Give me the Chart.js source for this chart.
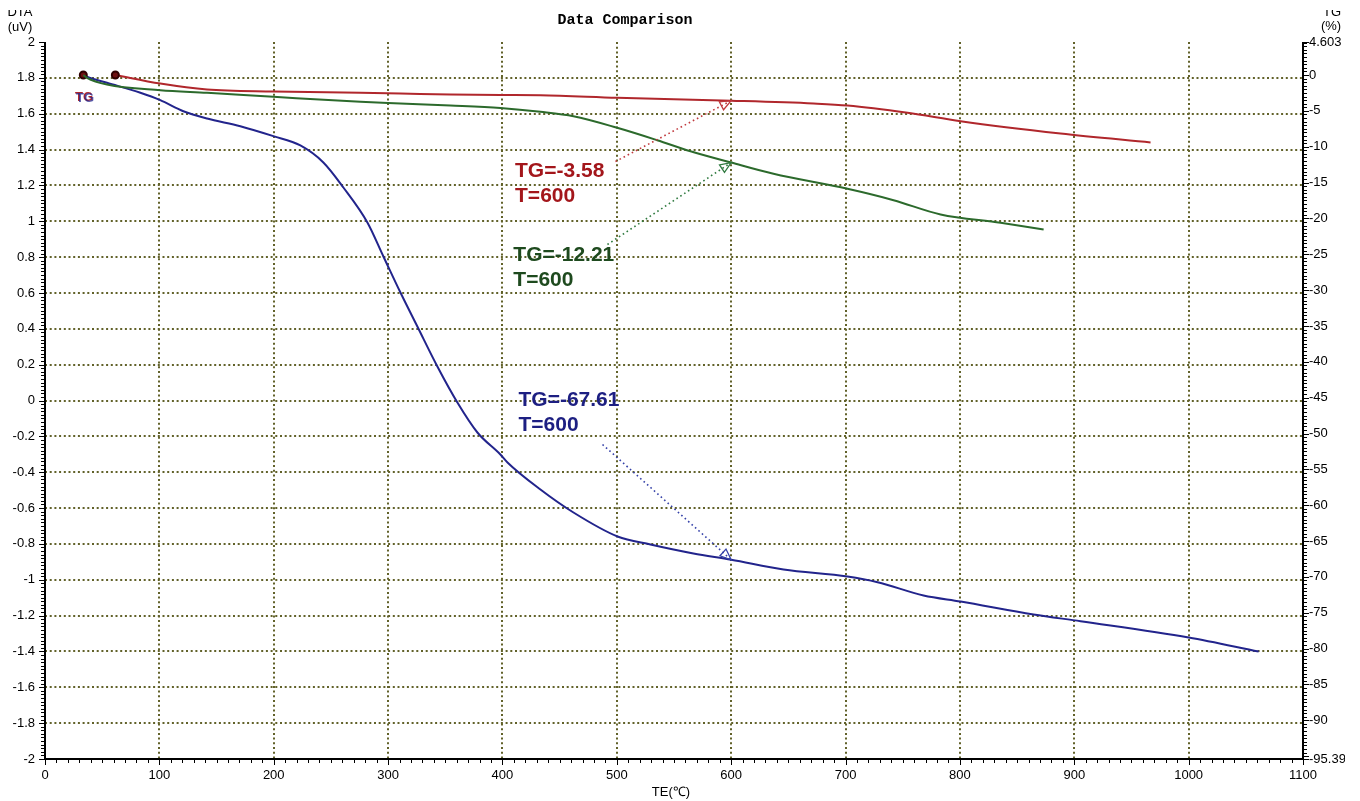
<!DOCTYPE html>
<html>
<head>
<meta charset="utf-8">
<title>Data Comparison</title>
<script src="https://cdn.jsdelivr.net/npm/chart.js@4.4.1/dist/chart.umd.min.js"></script>
<style>
  html, body { margin: 0; padding: 0; background: #fff; }
  #wrap { width: 1360px; height: 801px; position: relative; }
</style>
</head>
<body>
<div id="wrap"><canvas id="grafico"></canvas></div>
<script>
// datos (T en grados C, TG en %)
const tempRojo = [61.5, 100.8, 141.7, 199.7, 275.8, 310.8, 354.5, 398.2, 433.2, 500.3, 600, 672, 701.7, 754.2, 800.6, 888, 966.7];
const tgRojo   = [0.0, -1.19, -2.02, -2.30, -2.48, -2.58, -2.72, -2.79, -2.82, -3.18, -3.58, -3.97, -4.25, -5.27, -6.44, -8.16, -9.41];

const tempVerde = [33.5, 36.7, 54.2, 100.8, 141.7, 199.7, 275.8, 310.8, 354.5, 398.2, 433.2, 462.1, 500.3, 535.3, 564.4, 600, 637, 701.7, 742, 783.1, 835.6, 873.2];
const tgVerde   = [0.0, -0.39, -1.33, -2.12, -2.48, -3.04, -3.74, -3.97, -4.25, -4.60, -5.13, -5.75, -7.36, -9.09, -10.63, -12.21, -13.78, -15.87, -17.46, -19.45, -20.61, -21.55];

const tempAzul = [33.5, 36.7, 54.2, 83.4, 100.8, 121, 141.7, 170.8, 199.7, 223.3, 243.4, 260.9, 281.9, 295.9, 310.8, 325.6, 343.1, 360.6, 378.1, 398.2, 404.4, 433.2, 462.1, 500.6, 529.4, 567, 600, 645.8, 701.7, 728, 768.2, 800.6, 864.4, 905.5, 1000, 1061.2];
const tgAzul   = [0.0, -0.25, -1.09, -2.48, -3.51, -5.05, -6.07, -7.14, -8.53, -9.83, -12.20, -15.69, -20.57, -25.31, -30.34, -35.08, -40.66, -45.68, -49.86, -52.93, -54.04, -57.81, -61.02, -64.36, -65.48, -66.73, -67.61, -68.97, -69.95, -70.74, -72.59, -73.43, -75.24, -76.18, -78.45, -80.40];

// ejes
const xTicks = [0, 100, 200, 300, 400, 500, 600, 700, 800, 900, 1000, 1100];
const dtaMin = -2, dtaMax = 2;
const tgMax = 4.603, tgMin = -95.397;
const tgTicks = [4.603, 0, -5, -10, -15, -20, -25, -30, -35, -40, -45, -50, -55, -60, -65, -70, -75, -80, -85, -90, -95.397];

// anotaciones en T=600
const anotT = 600;
const anotTG = [-3.58, -12.21, -67.61];
const anotTextoT = [411, 409.5, 414];
const anotTextoTG = [-13.46, -25.17, -45.4];
const flechaIniT = [498.8, 491.8, 487.5];
const flechaIniTG = [-12.06, -23.64, -51.53];

const colRojo = '#b0272c';
const colVerde = '#2c6a2c';
const colAzul = '#22248c';
const colTexto = ['#a3161b', '#1e4a1e', '#1d1f82'];
const colFlecha = ['#c0393d', '#2f7a3f', '#3440a8'];

const serie = (xs, ys) => xs.map((t, i) => ({ x: t, y: ys[i] }));

// ejes con ancho fijo para que el area coincida
const fijarAncho = w => scale => { scale.width = w; };

const decoracion = {
  id: 'decoracion',
  afterDraw(chart) {
    const { ctx, chartArea: a, scales } = chart;
    const x = scales.x, y = scales.y, y2 = scales.y2;
    ctx.save();

    // lineas de ejes solidas
    ctx.strokeStyle = '#000';
    ctx.lineWidth = 2;
    ctx.setLineDash([]);
    ctx.beginPath();
    ctx.moveTo(a.left, a.top);
    ctx.lineTo(a.left, a.bottom);
    ctx.lineTo(a.right, a.bottom);
    ctx.lineTo(a.right, a.top);
    ctx.stroke();

    // marcas del eje (mayores y menores)
    ctx.lineWidth = 1;
    ctx.beginPath();
    for (let i = 0; i <= 110; i++) {
      const px = Math.round(x.getPixelForValue(i * 10)) + 0.5;
      const len = i % 10 === 0 ? 6 : 4;
      ctx.moveTo(px, a.bottom);
      ctx.lineTo(px, a.bottom + len);
    }
    for (let i = 0; i <= 200; i++) {
      const py = Math.round(y.getPixelForValue(-2 + i * 0.02)) + 0.5;
      const len = i % 10 === 0 ? 6 : 4;
      ctx.moveTo(a.left, py);
      ctx.lineTo(a.left - len, py);
    }
    for (let i = -190; i <= 9; i++) {
      const py = Math.round(y2.getPixelForValue(i * 0.5)) + 0.5;
      const len = i % 10 === 0 ? 6 : 4;
      ctx.moveTo(a.right, py);
      ctx.lineTo(a.right + len, py);
    }
    [tgMax, tgMin].forEach(v => {
      const py = Math.round(y2.getPixelForValue(v)) + 0.5;
      ctx.moveTo(a.right, py);
      ctx.lineTo(a.right + 6, py);
    });
    ctx.stroke();

    // el original esta recortado a la derecha
    ctx.fillStyle = '#fff';
    ctx.fillRect(1345, 0, chart.width - 1345, chart.height);

    // titulo
    ctx.fillStyle = '#000';
    ctx.font = 'bold 15px "Liberation Mono", "DejaVu Sans Mono", monospace';
    ctx.textAlign = 'center';
    ctx.textBaseline = 'middle';
    ctx.fillText('Data Comparison', 625, 20);

    // titulos de ejes
    ctx.font = '13px "Liberation Sans", Arial, sans-serif';
    ctx.save();
    ctx.beginPath();
    ctx.rect(0, 10, chart.width, 30);
    ctx.clip();
    ctx.fillText('DTA', 20, 12);
    ctx.fillText('TG', 1332, 12);
    ctx.restore();
    ctx.fillText('(uV)', 20, 27);
    ctx.fillText('(%)', 1331, 26);
    ctx.fillText('TE(\u2103)', 671, 792);

    // etiqueta TG del inicio
    ctx.font = 'bold 13px "Liberation Sans", Arial, sans-serif';
    ctx.fillStyle = '#b0272c';
    ctx.fillText('TG', 84, 97);
    ctx.fillStyle = 'rgba(34,36,140,0.75)';
    ctx.fillText('TG', 85, 98);

    // anotaciones con flecha punteada
    ctx.textAlign = 'left';
    for (let k = 0; k < anotTG.length; k++) {
      const x0 = x.getPixelForValue(flechaIniT[k]);
      const y0 = y2.getPixelForValue(flechaIniTG[k]);
      const x1 = x.getPixelForValue(anotT);
      const y1 = y2.getPixelForValue(anotTG[k]);
      ctx.strokeStyle = colFlecha[k];
      ctx.lineWidth = 1.6;
      ctx.setLineDash([1.6, 3]);
      ctx.beginPath();
      ctx.moveTo(x0, y0);
      ctx.lineTo(x1, y1);
      ctx.stroke();
      ctx.setLineDash([]);
      // punta abierta
      const ang = Math.atan2(y1 - y0, x1 - x0);
      const L = 11, W = 4.5;
      const bx = x1 - L * Math.cos(ang), by = y1 - L * Math.sin(ang);
      ctx.lineWidth = 1.3;
      ctx.beginPath();
      ctx.moveTo(x1, y1);
      ctx.lineTo(bx + W * Math.sin(ang), by - W * Math.cos(ang));
      ctx.lineTo(bx - W * Math.sin(ang), by + W * Math.cos(ang));
      ctx.closePath();
      ctx.stroke();

      const tx = x.getPixelForValue(anotTextoT[k]);
      const ty = y2.getPixelForValue(anotTextoTG[k]);
      ctx.font = 'bold 21px "Liberation Sans", Arial, sans-serif';
      ctx.fillStyle = colTexto[k];
      ctx.fillText('TG=' + anotTG[k].toFixed(2), tx, ty);
      ctx.fillText('T=' + anotT, tx, ty + 25);
    }
    ctx.restore();
  }
};

Chart.defaults.font.family = '"Liberation Sans", Arial, sans-serif';
Chart.defaults.font.size = 13;
Chart.defaults.color = '#000';

const colorGrid = '#62622a';
const puntoInicio = c => (c.dataIndex === 0 ? 3.5 : 0);

new Chart(document.getElementById('grafico'), {
  type: 'line',
  data: {
    datasets: [
      {
        label: 'TG rojo',
        data: serie(tempRojo, tgRojo),
        yAxisID: 'y2',
        borderColor: colRojo,
        borderWidth: 2,
        pointRadius: puntoInicio,
        pointBackgroundColor: '#6e1010',
        pointBorderColor: '#300000',
        cubicInterpolationMode: 'monotone'
      },
      {
        label: 'TG verde',
        data: serie(tempVerde, tgVerde),
        yAxisID: 'y2',
        borderColor: colVerde,
        borderWidth: 2,
        pointRadius: 0,
        cubicInterpolationMode: 'monotone'
      },
      {
        label: 'TG azul',
        data: serie(tempAzul, tgAzul),
        yAxisID: 'y2',
        borderColor: colAzul,
        borderWidth: 2,
        pointRadius: puntoInicio,
        pointBackgroundColor: '#6e1010',
        pointBorderColor: '#300000',
        cubicInterpolationMode: 'monotone'
      }
    ]
  },
  options: {
    responsive: true,
    maintainAspectRatio: false,
    animation: false,
    layout: { padding: { top: 42, left: 0, right: 0, bottom: 0 } },
    plugins: {
      legend: { display: false },
      tooltip: { enabled: false },
      title: { display: false }
    },
    scales: {
      x: {
        type: 'linear',
        min: 0,
        max: 1100,
        afterBuildTicks: s => { s.ticks = xTicks.map(v => ({ value: v })); },
        afterFit: s => { s.height = 42; },
        ticks: { padding: 3, maxRotation: 0, autoSkip: false, callback: v => String(v) },
        grid: {
          color: c => (c.tick && (c.tick.value === 0 || c.tick.value === 1100) ? 'rgba(0,0,0,0)' : colorGrid),
          lineWidth: 2,
          tickColor: 'rgba(0,0,0,0)',
          tickLength: 6
        },
        border: { display: false, dash: [2, 2.7] }
      },
      y: {
        position: 'left',
        min: dtaMin,
        max: dtaMax,
        afterFit: fijarAncho(45),
        ticks: {
          stepSize: 0.2,
          padding: 4,
          autoSkip: false,
          callback: v => String(Math.round(v * 10) / 10)
        },
        grid: {
          color: c => (c.tick && Math.abs(c.tick.value - dtaMax) < 1e-6 ? 'rgba(0,0,0,0)' : colorGrid),
          lineWidth: 2,
          tickColor: 'rgba(0,0,0,0)',
          tickLength: 6
        },
        border: { display: false, dash: [2, 2.7] }
      },
      y2: {
        position: 'right',
        min: tgMin,
        max: tgMax,
        afterBuildTicks: s => { s.ticks = tgTicks.map(v => ({ value: v })); },
        afterFit: fijarAncho(57),
        ticks: {
          padding: 2,
          autoSkip: false,
          callback: v => String(v)
        },
        grid: {
          drawOnChartArea: false,
          tickColor: 'rgba(0,0,0,0)',
          tickLength: 4
        },
        border: { display: false }
      }
    }
  },
  plugins: [decoracion]
});
</script>
</body>
</html>
